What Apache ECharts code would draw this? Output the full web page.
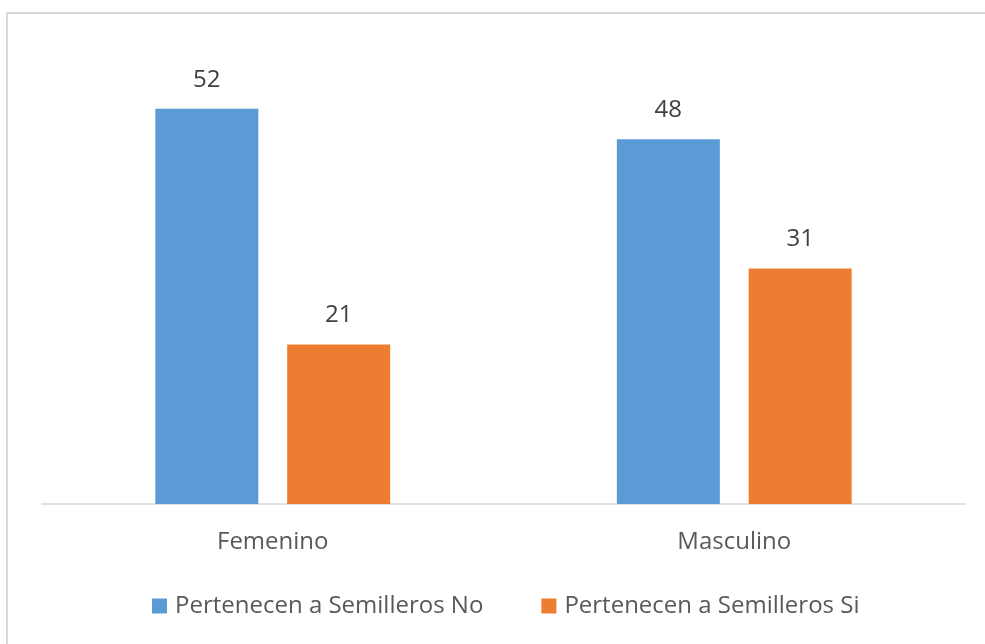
<!DOCTYPE html>
<html><head><meta charset="utf-8">
<script src="https://cdn.jsdelivr.net/npm/echarts@6/dist/echarts.min.js"></script>
<style>html,body{margin:0;padding:0;background:#fff}#c{width:985px;height:644px}</style>
</head><body><div id="c"></div>
<script>
const categories = ["Femenino", "Masculino"];
const seriesNames = ["Pertenecen a Semilleros No", "Pertenecen a Semilleros Si"];
const valuesNo = [52, 48];
const valuesSi = [21, 31];

const FONT = "Open Sans";
const chart = echarts.init(document.getElementById('c'));
chart.setOption({
  animation: false,
  textStyle: { fontFamily: FONT },
  graphic: [{
    type: 'rect', shape: { x: 7, y: 13, width: 1000, height: 700 },
    style: { fill: 'none', stroke: '#d9d9d9', lineWidth: 2 }, silent: true, z: -1
  }],
  grid: { left: 42, right: 20, top: 48, bottom: 140 },
  legend: {
    bottom: 21, left: 147, itemWidth: 15, itemHeight: 15, itemGap: 58,
    icon: 'rect',
    textStyle: { color: '#595959', fontSize: 24, fontFamily: FONT, padding: [0, 0, 0, 3] },
    data: seriesNames
  },
  xAxis: {
    type: 'category', data: categories,
    axisLine: { lineStyle: { color: '#d9d9d9', width: 1.5 } },
    axisTick: { show: false },
    axisLabel: { color: '#595959', fontSize: 24, margin: 26, fontFamily: FONT }
  },
  yAxis: { type: 'value', min: 0, max: 60, show: false, splitLine: { show: false } },
  series: [
    { name: seriesNames[0], type: 'bar', data: valuesNo, barWidth: 103, barGap: '28%',
      itemStyle: { color: '#5b9bd5' },
      label: { show: true, position: 'top', distance: 17, color: '#404040', fontSize: 24, fontFamily: FONT } },
    { name: seriesNames[1], type: 'bar', data: valuesSi, barWidth: 103,
      itemStyle: { color: '#ed7d31' },
      label: { show: true, position: 'top', distance: 17, color: '#404040', fontSize: 24, fontFamily: FONT } }
  ]
});
</script></body></html>
